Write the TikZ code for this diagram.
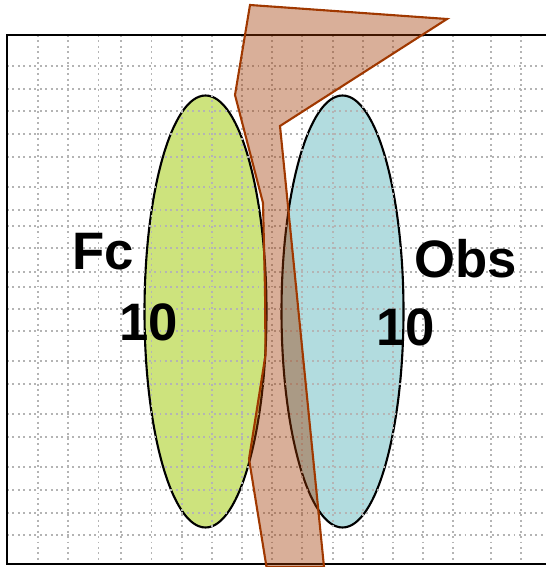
\documentclass[tikz,border=0pt]{standalone}
\usepackage{fontspec}
\setmainfont{Liberation Sans}
\usepackage{tikz}
\usetikzlibrary{positioning}
\definecolor{fcgreen}{HTML}{CDE37D}
\definecolor{obsblue}{HTML}{B2DCDF}
\definecolor{rust}{HTML}{A03800}
\definecolor{gridgray}{HTML}{B4B4B4}
\tikzset{
  blob/.style={draw=black, line width=1.2pt, fill=#1},
  blob/.default=fcgreen,
  gridline/.style={gridgray, dotted, line width=1.1pt},
  frameline/.style={draw=black, line width=1.6pt},
  wedge/.style={draw=rust, line width=1.2pt, fill=rust, fill opacity=0.4,
    line join=miter},
  biglabel/.style={font=\fontsize{30}{30}\selectfont\bfseries,
    inner sep=0pt, anchor=base west},
}

\begin{document}
\begin{tikzpicture}[x=0.02cm, y=-0.02cm]
\useasboundingbox (0,0) rectangle (546,567);

% Two ellipses
\draw[blob=fcgreen] (205.5,311.5) ellipse [x radius=61, y radius=216];
\draw[blob=obsblue] (342.5,311.5) ellipse [x radius=61, y radius=216];

% Dotted grid inside the frame
\foreach \gx in {37.6,68,98.5,121,151.5,182,212,242,272,302,333,363,393,423,453,491,521}
  \draw[gridline] (\gx,35) -- (\gx,564);
\foreach \gy in {66,89,111,134,157,187,210,226,248,272,287,309,331,361,384,414,437,467,490,513,535}
  \draw[gridline] (7,\gy) -- (552,\gy);

% Frame (right side runs past the edge)
\draw[frameline] (552,35) -- (7,35) -- (7,564) -- (552,564);

% Band crossing both ellipses
\draw[wedge] (250,5) -- (447,19) -- (280,126) -- (324,567) -- (266.5,567)
  -- (249,459) -- (265.5,355) -- (265,290) -- (263,203) -- (235,95) -- cycle;

% Labels
\node[biglabel] (fc) at (72,269.5) {Fc};
\node[biglabel] (fcnum) at (119,340) {10};
\node[biglabel] (obs) at (414,277) {Obs};
\node[biglabel] (obsnum) at (376,345) {10};

\end{tikzpicture}
\end{document}
